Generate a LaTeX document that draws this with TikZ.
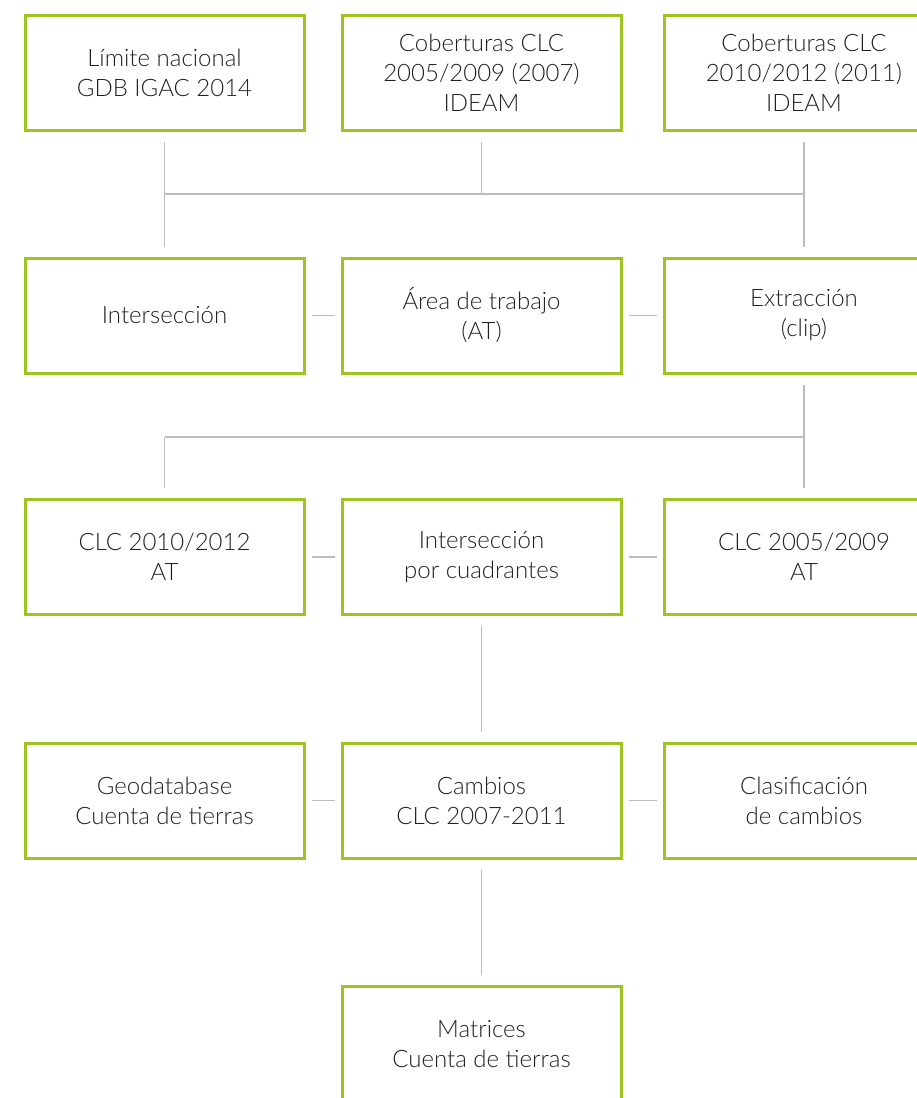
\documentclass[tikz,border=0pt]{standalone}
\usepackage{fontspec}
\setmainfont{Lato}[UprightFont={* Light}]
\definecolor{boxgreen}{HTML}{9DC41F}
\definecolor{linegray}{HTML}{BDBDBD}
\definecolor{txtgray}{HTML}{222222}
\begin{document}
\begin{tikzpicture}[x=1pt,y=-1pt,
  paso/.style={rectangle, draw=boxgreen, line width=3pt, minimum width=279pt, minimum height=115pt, inner sep=0pt, align=center, text=txtgray, font=\fontsize{24}{30}\selectfont},
  conector/.style={draw=linegray, line width=1.5pt},
  gap/.style={shorten <=#1, shorten >=#1}]
\useasboundingbox (0,0) rectangle (917,1098);
\clip (0,0) rectangle (917,1098);

\node[paso](lim) at (164.5,73) {Límite nacional\\GDB IGAC 2014};
\node[paso](cob07) at (481.5,73) {Coberturas CLC\\2005/2009 (2007)\\IDEAM};
\node[paso](cob11) at (804,73) {Coberturas CLC\\2010/2012 (2011)\\IDEAM};

\node[paso](inter) at (164.5,315.5) {Intersección};
\node[paso](area) at (481.5,315.5) {Área de trabajo\\(AT)};
\node[paso](extra) at (804,315.5) {Extracción\\(clip)};

\node[paso](clc11) at (164.5,557) {CLC 2010/2012\\AT};
\node[paso](cuad) at (481.5,557) {Intersección\\por cuadrantes};
\node[paso](clc07) at (804,557) {CLC 2005/2009\\AT};

\node[paso](geo) at (164.5,800.5) {Geodatabase\\Cuenta de tierras};
\node[paso](camb) at (481.5,800.5) {Cambios\\CLC 2007-2011};
\node[paso](clasif) at (804,800.5) {Clasificación\\de cambios};

\node[paso](matr) at (481.5,1044) {Matrices\\Cuenta de tierras};

% insumos
\coordinate (j1) at (481.5,194);
\draw[conector, gap=10pt] (lim) -- (inter);
\draw[conector, gap=10pt] (cob11) -- (extra);
\draw[conector, shorten <=10pt] (cob07) -- (j1);
\draw[conector] (lim |- j1) -- (cob11 |- j1);

\draw[conector, gap=6pt] (inter) -- (area);
\draw[conector, gap=6pt] (area) -- (extra);

% recorte
\coordinate (j2) at (481.5,437);
\draw[conector, gap=10pt] (extra) -- (clc07);
\draw[conector] (clc11 |- j2) -- (extra |- j2);
\draw[conector, shorten >=10pt] (clc11 |- j2) -- (clc11);

\draw[conector, gap=6pt] (clc11) -- (cuad);
\draw[conector, gap=6pt] (cuad) -- (clc07);

\draw[conector, gap=10pt] (cuad) -- (camb);
\draw[conector, gap=6pt] (geo) -- (camb);
\draw[conector, gap=6pt] (camb) -- (clasif);
\draw[conector, gap=10pt] (camb) -- (matr);
\end{tikzpicture}
\end{document}
